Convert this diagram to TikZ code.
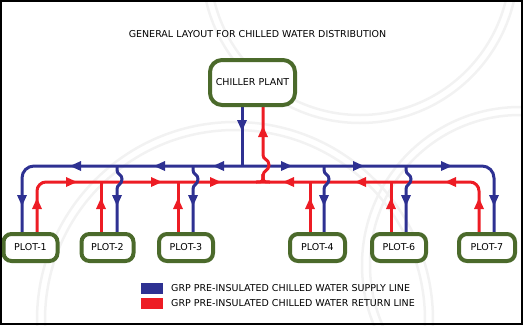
\documentclass[tikz,border=0pt]{standalone}
\usepackage{fontspec}
\setmainfont{DejaVu Sans}
\usetikzlibrary{arrows.meta,backgrounds}
\definecolor{sup}{HTML}{2E3192}
\definecolor{ret}{HTML}{ED1C24}
\definecolor{grn}{HTML}{4B6A2B}
\begin{document}
\begin{tikzpicture}[x=1pt,y=-1pt,
  every node/.style={font=\fontsize{9.5}{11}\selectfont},
  box/.style={draw=grn,line width=4pt,rounded corners=8pt,fill=white,inner sep=0pt,minimum width=54pt,minimum height=27pt},
  bp/.style={draw=sup,line width=3pt},
  rp/.style={draw=ret,line width=3pt},
  ring/.style={draw=black!5,line width=2.5pt},
  tri/.pic={\fill (0,0) -- (-11,-5) -- (-11,5) -- cycle;}
]
\useasboundingbox (0,0) rectangle (523,325);
% boxes
\node[box,minimum width=85pt,minimum height=45pt,rounded corners=12pt] (chiller) at (252.5,82.5) {CHILLER PLANT};
\node[box] (p1) at (30.5,247.5) {PLOT-1};
\node[box,minimum width=52pt] (p2) at (107.5,247.5) {PLOT-2};
\node[box] (p3) at (186,247.5) {PLOT-3};
\node[box,minimum width=55pt] (p4) at (317.5,247.5) {PLOT-4};
\node[box] (p6) at (399,247.5) {PLOT-6};
\node[box,minimum width=56pt] (p7) at (487,247.5) {PLOT-7};
\node (title) at (257.5,34.5) {GENERAL LAYOUT FOR CHILLED WATER DISTRIBUTION};
% legend
\node[fill=sup,minimum width=22pt,minimum height=11pt,inner sep=0pt] (ls) at (152,288.5) {};
\node[fill=ret,minimum width=22pt,minimum height=11pt,inner sep=0pt] (lr) at (152,303.5) {};
\node[anchor=west,inner sep=0pt] (lst) at (171,288) {GRP PRE-INSULATED CHILLED WATER SUPPLY LINE};
\node[anchor=west,inner sep=0pt] (lrt) at (171,303) {GRP PRE-INSULATED CHILLED WATER RETURN LINE};
% coordinates
\coordinate (bL) at (22,166);
\coordinate (bR) at (494,166);
\coordinate (rL) at (37,182);
\coordinate (rR) at (479,182);
\coordinate (bC) at (242,166);
\coordinate (rC) at (263,182);
\begin{scope}[on background layer]
  % watermark rings
  \foreach \r in {150,158} \draw[ring] (360,-35) circle (\r);
  \foreach \r in {190,198} \draw[ring] (235,320) circle (\r);
  \foreach \r in {150,158} \draw[ring] (520,265) circle (\r);
  % main headers
  \draw[bp,rounded corners=12pt] (bL |- p1.north) -- (bL) -- (bR) -- (bR |- p7.north);
  \draw[rp,rounded corners=9pt] (rL |- p1.north) -- (rL) -- (rR) -- (rR |- p7.north);
  % chiller connections
  \draw[bp] (bC |- chiller.south) -- (bC);
  \draw[rp] (rC |- chiller.south) -- (263,155) .. controls (263,160) and (269,159) .. (269,165)
     .. controls (269,171) and (263,170) .. (263,176) -- (rC);
  \draw[rp] (263,174) .. controls (263,182) .. (256,182);
  \draw[rp] (263,174) .. controls (263,182) .. (270,182);
  % branch connections
  \foreach \n/\xb/\xr in {2/117/101,3/193/178,4/324/310,6/406/391}{
    \coordinate (bj\n) at (\xb,166);
    \coordinate (rj\n) at (\xr,182);
    \draw[rp] (rj\n |- p\n.north) -- (rj\n);
    \draw[bp] (bj\n) -- ({\xb},170) .. controls ({\xb},175) and ({\xb+5},174) .. ({\xb+5},179)
       .. controls ({\xb+5},185) and ({\xb},184) .. ({\xb},189) -- (bj\n |- p\n.north);
  }
  % arrowheads
  \foreach \x in {70,154,213} \pic[sup,rotate=180] at (\x,166) {tri};
  \foreach \x in {292,364,452} \pic[sup] at (\x,166) {tri};
  \foreach \x in {77,162,221} \pic[ret] at (\x,182) {tri};
  \foreach \x in {283,355,445} \pic[ret,rotate=180] at (\x,182) {tri};
  \foreach \x in {22,117,193,324,406,494} \pic[sup,rotate=-90] at (\x,206) {tri};
  \foreach \x in {37,101,178,310,391,479} \pic[ret,rotate=90] at (\x,198) {tri};
  \pic[sup,rotate=-90] at (242,131) {tri};
  \pic[ret,rotate=90] at (263,126) {tri};
\end{scope}
\draw[line width=2pt] (1,1) rectangle (522,324);
\end{tikzpicture}
\end{document}
